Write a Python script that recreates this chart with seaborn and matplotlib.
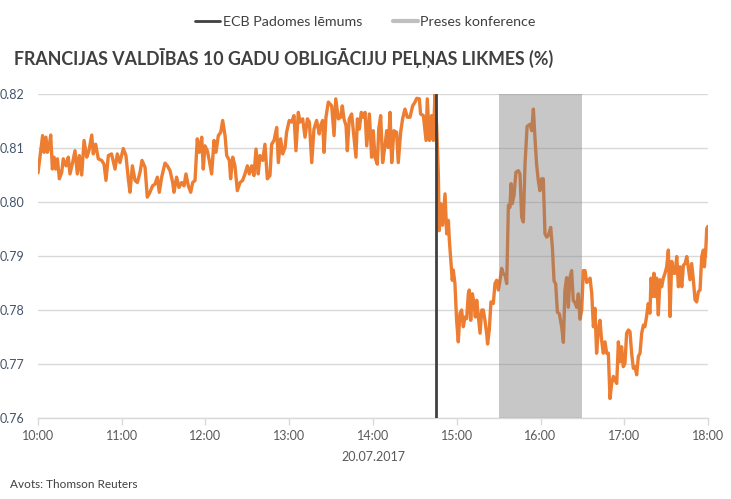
import numpy as np
import pandas as pd
import matplotlib
matplotlib.use("Agg")
import matplotlib.pyplot as plt
import matplotlib.dates as mdates
from matplotlib.lines import Line2D
import seaborn as sns

# ---- data: minutes after 10:00 on 20.07.2017 and yield (%) ----
minutes_a = [0, 1.4, 3.3, 4.3, 5.7, 6.7, 8.1, 9.1, 10.3, 11.5, 12.7, 13.9, 15.3, 17.0, 18.1,
             20.1, 21.7, 22.9, 24.8, 26.5, 28.2, 29.6, 31.3, 33.0, 34.9, 36.5, 38.5, 39.6,
             41.3, 43.2, 45.6, 47.3, 48.7, 50.4, 52.7, 55.2, 56.8, 58.7, 61.1, 63.0, 64.7,
             65.9, 67.6, 69.5, 71.2, 73.1, 74.5, 76.7, 78.3, 80.2, 82.1, 83.8, 85.5, 86.9,
             88.6, 91.0, 92.7, 94.6, 96.5, 97.4, 99.3, 101.0, 102.9, 104.6, 106.0, 107.7,
             109.4, 110.8, 112.5, 114.1, 115.6, 117.3, 118.4, 119.6]
yield_a = [0.8054, 0.8083, 0.8123, 0.8092, 0.8120, 0.8092, 0.8104, 0.8124, 0.8061, 0.8083,
           0.8061, 0.8080, 0.8043, 0.8055, 0.8080, 0.8067, 0.8083, 0.8052, 0.8073, 0.8095,
           0.8052, 0.8086, 0.8050, 0.8114, 0.8083, 0.8095, 0.8124, 0.8089, 0.8107, 0.8080,
           0.8077, 0.8070, 0.8040, 0.8086, 0.8089, 0.8061, 0.8089, 0.8073, 0.8099, 0.8086,
           0.8043, 0.8018, 0.8067, 0.8040, 0.8036, 0.8055, 0.8077, 0.8064, 0.8009, 0.8018,
           0.8030, 0.8033, 0.8046, 0.8018, 0.8046, 0.8072, 0.8067, 0.8058, 0.8036, 0.8018,
           0.8046, 0.8027, 0.8036, 0.8030, 0.8052, 0.8030, 0.8018, 0.8036, 0.8040, 0.8117,
           0.8092, 0.8120, 0.8061, 0.8104]

minutes_b = [121.3, 122.7, 124.4, 126.1, 127.5, 129.2, 130.9, 132.3, 134.0, 135.2, 137.1,
             138.0, 139.5, 141.1, 142.8, 144.7, 146.6, 148.3, 150.0, 151.4, 153.1, 154.7,
             156.2, 157.8, 159.0, 161.0, 162.6, 164.3, 166.2, 167.4, 169.1, 171.0, 172.2,
             173.8, 175.3, 177.0, 178.1, 180.0, 181.7, 183.4, 184.8, 186.5, 187.7, 189.6,
             191.3, 193.0, 194.4, 196.1, 197.7, 199.6, 201.5]
yield_b = [0.8095, 0.8077, 0.8052, 0.8114, 0.8092, 0.8123, 0.8129, 0.8151, 0.8123, 0.8086,
           0.8077, 0.8043, 0.8083, 0.8067, 0.8021, 0.8036, 0.8040, 0.8052, 0.8067, 0.8052,
           0.8067, 0.8049, 0.8098, 0.8052, 0.8086, 0.8077, 0.8107, 0.8043, 0.8049, 0.8107,
           0.8114, 0.8138, 0.8073, 0.8117, 0.8089, 0.8101, 0.8129, 0.8151, 0.8148, 0.8160,
           0.8095, 0.8166, 0.8148, 0.8154, 0.8120, 0.8154, 0.8148, 0.8073, 0.8135, 0.8151,
           0.8126]

minutes_c = [202.0, 203.9, 204.9, 206.3, 208.0, 210.4, 212.1, 213.3, 215.2, 216.8, 218.0,
             219.2, 220.7, 221.6, 223.0, 224.7, 225.9, 227.8, 228.8, 230.2, 231.6, 233.1,
             234.3, 235.5, 237.4, 239.0, 240.2, 241.4, 243.1, 244.1, 245.5, 246.9, 248.6,
             249.8, 251.0, 252.2, 253.4, 255.0, 256.9, 258.1, 259.8, 261.2, 262.9, 264.6,
             266.5, 268.4, 270.1, 271.3, 273.2, 274.1, 276.1, 278.0, 278.9, 280.4, 282.0,
             283.2, 284.4, 285.6]
yield_c = [0.8138, 0.8151, 0.8092, 0.8157, 0.8185, 0.8178, 0.8123, 0.8191, 0.8154, 0.8157,
           0.8178, 0.8154, 0.8141, 0.8095, 0.8154, 0.8163, 0.8132, 0.8083, 0.8154, 0.8135,
           0.8166, 0.8157, 0.8166, 0.8104, 0.8163, 0.8083, 0.8132, 0.8083, 0.8070, 0.8135,
           0.8160, 0.8073, 0.8104, 0.8132, 0.8101, 0.8166, 0.8073, 0.8132, 0.8129, 0.8073,
           0.8129, 0.8154, 0.8172, 0.8157, 0.8157, 0.8178, 0.8185, 0.8192, 0.8191, 0.8163,
           0.8160, 0.8114, 0.8191, 0.8114, 0.8160, 0.8114, 0.8200, 0.8140]

minutes_d = [286.8, 287.5, 288.5, 289.9, 291.6, 292.8, 294.0, 294.7, 295.6, 296.8, 297.5,
             298.7, 299.9, 301.1, 302.3, 303.5, 304.7, 305.9, 307.1, 308.3, 309.0, 310.0,
             311.2, 312.4, 313.3, 314.3, 315.5, 316.7, 317.9, 319.0, 320.2, 321.4, 322.1,
             323.3, 324.5, 326.2, 327.4, 328.6, 329.8, 331.0, 332.2, 333.4, 334.6, 335.8,
             337.0, 338.1, 338.9, 339.8, 341.0, 342.4, 344.1, 345.3, 346.5, 347.7, 348.9,
             350.4]
yield_d = [0.8052, 0.7947, 0.7997, 0.7957, 0.8015, 0.7941, 0.7966, 0.7929, 0.7898, 0.7855,
           0.7874, 0.7849, 0.7781, 0.7741, 0.7794, 0.7800, 0.7769, 0.7787, 0.7784, 0.7830,
           0.7837, 0.7781, 0.7830, 0.7812, 0.7787, 0.7818, 0.7787, 0.7757, 0.7800, 0.7800,
           0.7781, 0.7757, 0.7737, 0.7763, 0.7815, 0.7812, 0.7849, 0.7855, 0.7837, 0.7855,
           0.7877, 0.7867, 0.7864, 0.7849, 0.7994, 0.7990, 0.8034, 0.7997, 0.8012, 0.8055,
           0.8058, 0.8052, 0.7972, 0.7963, 0.8070, 0.8140]

minutes_e = [352.5, 353.7, 354.9, 356.0, 357.2, 358.4, 359.6, 360.8, 362.0, 363.2, 364.4,
             365.6, 367.3, 368.5, 369.7, 370.9, 372.1, 373.5, 375.2, 376.4, 377.5, 378.7,
             379.9, 381.1, 382.3, 383.5, 384.7, 385.9, 387.1, 388.3, 389.5, 390.7, 391.9,
             393.1, 394.3]
yield_e = [0.8144, 0.8132, 0.8172, 0.8120, 0.8070, 0.8040, 0.8021, 0.8043, 0.8043, 0.7941,
           0.7935, 0.7938, 0.7953, 0.7916, 0.7854, 0.7848, 0.7796, 0.7793, 0.7768, 0.7740,
           0.7836, 0.7860, 0.7805, 0.7860, 0.7873, 0.7817, 0.7814, 0.7805, 0.7830, 0.7783,
           0.7799, 0.7873, 0.7873, 0.7851, 0.7854]

minutes_f = [395.5, 396.7, 397.9, 399.0, 400.2, 401.4, 402.6, 403.8, 405.0, 406.2, 407.4,
             408.6, 409.8, 411.0, 412.2, 413.4, 414.6, 415.8, 416.9, 418.1, 419.3, 420.5,
             421.7, 422.9, 424.1, 425.3, 426.5, 427.7, 428.9, 430.1, 431.3, 432.5, 433.7,
             434.8, 436.0, 437.2, 438.4, 439.2, 440.4, 441.3, 442.3, 443.2, 444.4, 445.6,
             446.8, 448.0, 449.2, 450.4, 451.6, 452.8, 454.0, 455.2, 456.4, 457.6, 458.8,
             460.0, 461.2, 462.4, 463.6, 464.8, 466.0, 467.1, 468.3, 469.5, 470.7, 471.9,
             473.1, 474.3, 475.5, 476.7, 477.4, 478.4, 479.1, 480.0]
yield_f = [0.7859, 0.7831, 0.7769, 0.7803, 0.7720, 0.7763, 0.7781, 0.7744, 0.7720, 0.7741,
           0.7720, 0.7720, 0.7636, 0.7664, 0.7677, 0.7670, 0.7664, 0.7741, 0.7704, 0.7732,
           0.7695, 0.7701, 0.7757, 0.7763, 0.7760, 0.7720, 0.7692, 0.7695, 0.7680, 0.7714,
           0.7720, 0.7757, 0.7772, 0.7769, 0.7788, 0.7812, 0.7794, 0.7859, 0.7825, 0.7868,
           0.7825, 0.7859, 0.7791, 0.7856, 0.7843, 0.7859, 0.7868, 0.7880, 0.7911, 0.7788,
           0.7890, 0.7868, 0.7868, 0.7899, 0.7843, 0.7880, 0.7843, 0.7883, 0.7886, 0.7899,
           0.7877, 0.7856, 0.7886, 0.7856, 0.7819, 0.7815, 0.7834, 0.7837, 0.7899, 0.7911,
           0.7880, 0.7911, 0.7951, 0.7955]

ecb_decision = "14:45"
press_start, press_end = "15:30", "16:30"
x_ticks = ["10:00", "11:00", "12:00", "13:00", "14:00", "15:00", "16:00", "17:00", "18:00"]
y_ticks = [0.76, 0.77, 0.78, 0.79, 0.80, 0.81, 0.82]
day = "2017-07-20"

title = "FRANCIJAS VALDĪBAS 10 GADU OBLIGĀCIJU PEĻŅAS LIKMES (%)"
date_label = "20.07.2017"
source = "Avots: Thomson Reuters"
legend_labels = ["ECB Padomes lēmums", "Preses konference"]

# ---- build frame ----
minutes = minutes_a + minutes_b + minutes_c + minutes_d + minutes_e + minutes_f
values = yield_a + yield_b + yield_c + yield_d + yield_e + yield_f
start = pd.Timestamp(f"{day} 10:00")
df = pd.DataFrame({"time": start + pd.to_timedelta(minutes, unit="m"), "yield": values})

def ts(hhmm):
    return pd.Timestamp(f"{day} {hhmm}")

sns.set_theme(style="white")
plt.rcParams["font.family"] = ["Lato", "DejaVu Sans"]

fig = plt.figure(figsize=(7.31, 4.99), dpi=100)
ax = fig.add_axes([38 / 731, 1 - 418 / 499, 670 / 731, 324 / 499])

sns.lineplot(data=df, x="time", y="yield", ax=ax, color="#ED7D31", linewidth=2.4, zorder=2)

# press conference band drawn above the line
ax.axvspan(ts(press_start), ts(press_end), color="#7f7f7f", alpha=0.43, lw=0, zorder=3)
# ECB decision line
ax.axvline(ts(ecb_decision), color="#404040", linewidth=2.0, zorder=4)

ax.set_ylim(y_ticks[0], y_ticks[-1])
ax.set_xlim(ts(x_ticks[0]), ts(x_ticks[-1]))
ax.set_yticks(y_ticks)
ax.set_yticklabels([f"{v:.2f}" for v in y_ticks])
ax.set_xticks([ts(t) for t in x_ticks])
ax.xaxis.set_major_formatter(mdates.DateFormatter("%H:%M"))

ax.grid(axis="y", color="#d9d9d9", linewidth=1.0, zorder=0)
ax.grid(axis="x", visible=False)
ax.set_axisbelow(True)
for s in ["top", "right", "left"]:
    ax.spines[s].set_visible(False)
ax.spines["bottom"].set_color("#d9d9d9")
ax.spines["bottom"].set_linewidth(1.0)
ax.tick_params(axis="x", which="major", bottom=True, length=5, width=1, color="#d9d9d9",
               labelsize=9, labelcolor="#595959", pad=4)
ax.tick_params(axis="y", left=False, labelsize=9, labelcolor="#44546a", pad=4)
ax.set_xlabel(date_label, fontsize=9, color="#595959", labelpad=6)
ax.set_ylabel("")

fig.text(14 / 731, 1 - 58 / 499, title, fontsize=12.75, fontweight="bold", color="#404040",
         ha="left", va="center")
fig.text(10 / 731, 1 - 484 / 499, source, fontsize=8.5, color="#404040", ha="left", va="center")

handles = [Line2D([], [], color="#404040", linewidth=2),
           Line2D([], [], color="#bfbfbf", linewidth=3)]
fig.legend(handles, legend_labels, loc="center", bbox_to_anchor=(0.5, 1 - 22 / 499),
           ncol=2, frameon=False, fontsize=10.3, handlelength=1.75, handletextpad=0.2,
           columnspacing=2.1, labelcolor="#404040")

fig.savefig("out.png", dpi=100)
